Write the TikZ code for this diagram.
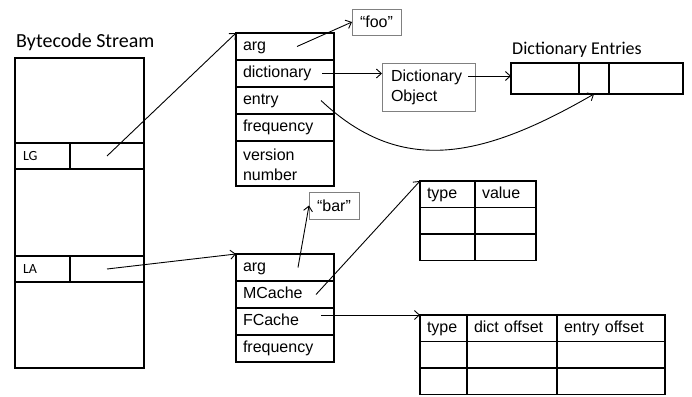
\documentclass[tikz,border=0pt]{standalone}
\usepackage{fontspec}
\setmainfont{Liberation Sans}
\newfontfamily\calibrifont{Carlito}
\usetikzlibrary{arrows.meta, positioning}
\tikzstyle{slot} = [rectangle, draw=black, line width=1.5pt, outer sep=0pt, inner sep=0pt, anchor=north west]
\tikzstyle{field} = [rectangle, draw=black, line width=1.5pt, outer sep=0pt, inner xsep=7pt, inner ysep=0pt, text width=84pt, minimum height=27pt, align=left, execute at begin node=\strut, font=\fontsize{16}{20}\selectfont]
\tikzstyle{cell} = [rectangle, draw=black, line width=1.5pt, outer sep=0pt, inner xsep=7pt, inner ysep=0pt, minimum height=26.5pt, align=left, anchor=north west, execute at begin node=\strut, font=\fontsize{16}{20}\selectfont]
\tikzstyle{tag} = [rectangle, draw=black!50, line width=0.8pt, outer sep=0pt, anchor=north west, font=\fontsize{16}{20}\selectfont]
\tikzstyle{arrow} = [line width=0.9pt, -{Straight Barb[length=5pt, width=9pt]}]

\begin{document}
\begin{tikzpicture}[x=1pt, y=-1pt, node distance=0pt]
\useasboundingbox (0,0) rectangle (692,396);

% bytecode stream
\node (bstitle) [anchor=base west, inner sep=0pt, font=\calibrifont\fontsize{20}{24}\selectfont] at (16,48) {Bytecode Stream};
\node (bstop) [slot, minimum width=129pt, minimum height=85pt] at (15,58) {};
\node (lgtag) [slot, inner xsep=8pt, text width=39pt, minimum height=26pt, align=left, font=\calibrifont\fontsize{14}{16}\selectfont] at (bstop.south west) {LG};
\node (lgslot) [slot, minimum width=74pt, minimum height=26pt] at (lgtag.north east) {};
\node (bsmid) [slot, minimum width=129pt, minimum height=87pt] at (lgtag.south west) {};
\node (latag) [slot, inner xsep=8pt, text width=39pt, minimum height=26pt, align=left, font=\calibrifont\fontsize{14}{16}\selectfont] at (bsmid.south west) {LA};
\node (laslot) [slot, minimum width=74pt, minimum height=26pt] at (latag.north east) {};
\node (bsbot) [slot, minimum width=129pt, minimum height=86pt] at (latag.south west) {};

% global cache entry
\node (garg) [field, anchor=north west] at (236,33) {arg};
\node (gdict) [field, below=of garg] {dictionary};
\node (gentry) [field, below=of gdict] {entry};
\node (gfreq) [field, below=of gentry] {frequency};
\node (gver) [field, below=of gfreq, minimum height=45pt] {version\\number};

% attribute cache entry
\node (aarg) [field, anchor=north west] at (236,254) {arg};
\node (amc) [field, below=of aarg] {MCache};
\node (afc) [field, below=of amc] {FCache};
\node (afreq) [field, below=of afc] {frequency};

\node (foo) [tag, minimum width=49pt, minimum height=26pt] at (352,9) {“foo”};
\node (bar) [tag, minimum width=50pt, minimum height=27pt] at (309,192) {“bar”};
\node (dobj) [tag, inner xsep=9pt, text width=75pt, minimum height=48pt, align=left] at (382,63) {Dictionary\\Object};

% dictionary entries
\node (delabel) [anchor=base west, inner sep=0pt, font=\calibrifont\fontsize{18}{22}\selectfont] at (512,55) {Dictionary Entries};
\node (de1) [slot, minimum width=68pt, minimum height=31pt] at (511,63) {};
\node (de2) [slot, minimum width=30pt, minimum height=31pt] at (de1.north east) {};
\node (de3) [slot, minimum width=74pt, minimum height=31pt] at (de2.north east) {};

% method cache
\node (tv11) [cell, text width=41pt] at (420,181) {type};
\node (tv12) [cell, text width=47pt] at (tv11.north east) {value};
\foreach \r/\p in {2/1,3/2} {
  \node (tv\r1) [cell, text width=41pt] at (tv\p1.south west) {};
  \node (tv\r2) [cell, text width=47pt] at (tv\r1.north east) {};
}

% field cache
\node (ft11) [cell, text width=33pt] at (420,315) {type};
\node (ft12) [cell, text width=76pt] at (ft11.north east) {dict offset};
\node (ft13) [cell, text width=94pt] at (ft12.north east) {entry offset};
\foreach \r/\p in {2/1,3/2} {
  \node (ft\r1) [cell, text width=33pt] at (ft\p1.south west) {};
  \node (ft\r2) [cell, text width=76pt] at (ft\r1.north east) {};
  \node (ft\r3) [cell, text width=94pt] at (ft\r2.north east) {};
}

\coordinate (dictout) at ([xshift=-12pt]gdict.east);
\coordinate (dobjout) at ([xshift=-7pt, yshift=11pt]dobj.east);
\coordinate (entryout) at ([xshift=-13pt]gentry.east);
\coordinate (fcout) at ([xshift=-13pt]afc.east);

\draw [arrow] (lgslot.center) -- (garg.north west);
\draw [arrow] (laslot.center) -- (aarg.north west);
\draw [arrow] ([xshift=12pt]garg.center) -- (foo.west);
\draw [arrow] (dictout) -- (dictout -| dobj.west);
\draw [arrow] (dobjout) -- (dobjout -| de1.west);
\draw [arrow] (entryout) .. controls (400,175) and (480,160) .. (de2.south);
\draw [arrow] ([xshift=13pt]aarg.center) -- (bar.west);
\draw [arrow] ([xshift=31pt]amc.center) -- (tv11.north west);
\draw [arrow] (fcout |- ft11.north west) -- (ft11.north west);
\end{tikzpicture}
\end{document}
